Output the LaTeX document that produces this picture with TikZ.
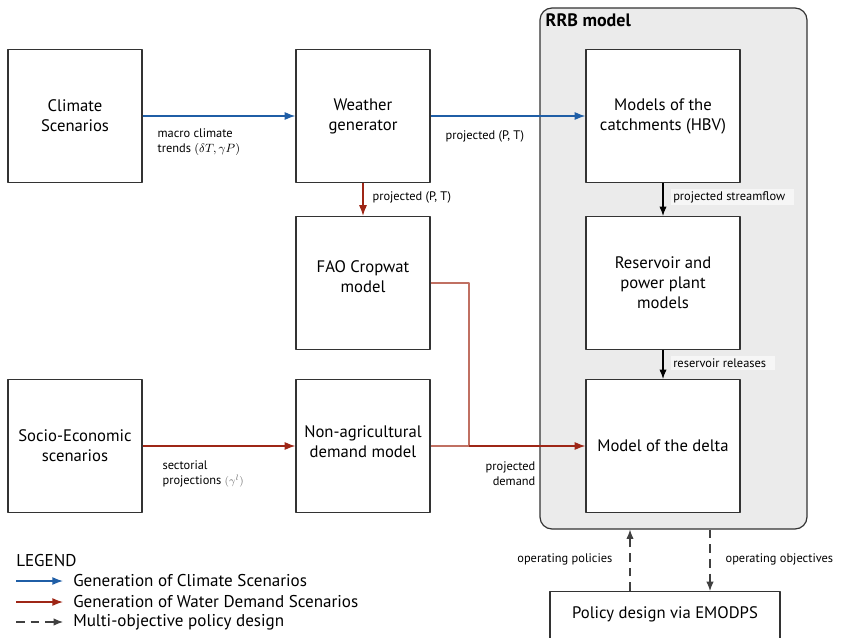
\documentclass[tikz,border=0pt]{standalone}
\usepackage{fontspec}
\setmainfont{PT Sans}
\usetikzlibrary{arrows.meta,calc}
\definecolor{climblue}{RGB}{31,94,166}
\definecolor{demred}{RGB}{158,38,22}
\definecolor{demlight}{RGB}{192,112,98}
\definecolor{rrbgray}{RGB}{235,235,235}
\tikzset{
 box/.style={draw=black!80,fill=white,line width=0.9pt,minimum width=100.5pt,minimum height=99.75pt,align=center,inner sep=3pt,font=\fontsize{12.5}{15}\selectfont},
 wide/.style={minimum width=115.5pt},
 lbl/.style={font=\fontsize{9.3}{11.5}\selectfont,align=left,inner sep=1pt},
 tag/.style={lbl,fill=white!55!rrbgray,inner xsep=1.5pt,inner ysep=2pt},
 climate/.style={draw=climblue,line width=1pt,-{Latex[length=8pt,width=6pt]}},
 demand/.style={draw=demred,line width=1pt,-{Latex[length=8pt,width=6pt]}},
 feed/.style={draw=black,line width=0.8pt,-{Latex[length=7pt,width=5.5pt]}},
 policy/.style={draw=black!75,line width=0.8pt,dash pattern=on 6.5pt off 4.5pt,-{Latex[length=7pt,width=5.5pt]}},
}
\begin{document}
\begin{tikzpicture}[x=0.75pt,y=-0.75pt,line join=round]
 \clip (0,0) rectangle (843,638);
 % RRB frame
 \node[draw=black!80,fill=rrbgray,line width=0.9pt,rounded corners=9pt,minimum width=200.25pt,minimum height=390.75pt] (rrb) at (673.5,268.5) {};
 \node[anchor=north west,inner sep=0pt,font=\fontsize{13.5}{16}\selectfont\bfseries] (rrbtitle) at ($(rrb.north west)+(6,6)$) {RRB model};
 % model boxes
 \node[box] (clim) at (75,116) {Climate\\Scenarios};
 \node[box] (wgen) at (363,116) {Weather\\generator};
 \node[box,wide] (hbv) at (663,116) {Models of the\\catchments (HBV)};
 \node[box] (fao) at (363,283) {FAO Cropwat\\model\rule[-9pt]{0pt}{0pt}};
 \node[box,wide] (res) at (663,283) {Reservoir and\\power plant\\models};
 \node[box] (socio) at (75,446) {Socio-Economic\\scenarios};
 \node[box] (nonag) at (363,446) {Non-agricultural\\demand model\rule[-6pt]{0pt}{0pt}};
 \node[box,wide] (delta) at (663,446) {Model of the delta};
 \node[box,anchor=north,minimum width=172.5pt,minimum height=0pt,text height=17pt,text depth=22pt] (pol) at (665,591) {Policy design via EMODPS};
 % climate chain
 \draw[climate] (clim) -- (wgen);
 \draw[climate] (wgen) -- (hbv);
 \node[lbl,anchor=north west] (trend) at (156,127) {macro climate\\trends {\small$(\delta T,\gamma P)$}};
 \node[lbl,anchor=west] (ptblue) at (444,136) {projected (P, T)};
 % demand chain
 \draw[demand] (wgen) -- (fao);
 \node[lbl,anchor=west] (ptred) at (371,197) {projected (P, T)};
 \draw[demand] (socio) -- (nonag);
 \node[lbl,anchor=north west] (sect) at (161,459) {sectorial\\projections {\color{black!55}\footnotesize$(\gamma^l)$}};
 \coordinate (join) at (469,446);
 \draw[draw=demlight,line width=0.8pt] (fao.east) -| (join) -- (nonag.east);
 \draw[demand] (join) -- (delta.west);
 \node[lbl,anchor=north east,align=right] (pdem) at (537,460) {projected\\demand};
 % inside the RRB model
 \draw[feed] (hbv) -- (res);
 \node[tag,anchor=west] (flow) at (671,197) {projected streamflow\hspace{5pt}};
 \draw[feed] (res) -- (delta);
 \node[tag,anchor=west] (rel) at (671,363) {reservoir releases\hspace{5pt}};
 % policy loop
 \coordinate (pin) at ($(pol.north)+(-35,0)$);
 \coordinate (pout) at ($(pol.north)+(45,0)$);
 \draw[policy] (pin) -- (pin |- rrb.south);
 \draw[policy] (pout |- rrb.south) -- (pout);
 \node[lbl,anchor=east] (opol) at (614,559) {operating policies};
 \node[lbl,anchor=west] (oobj) at (724,559) {operating objectives};
 % legend
 \node[anchor=west,inner sep=0pt,font=\fontsize{12.8}{15}\selectfont] (leg) at (16,561) {LEGEND};
 \foreach \i/\y/\st/\txt in {1/581/climate/Generation of Climate Scenarios,2/602/demand/Generation of Water Demand Scenarios,3/622/policy/Multi-objective policy design}{
  \coordinate (s\i) at (16,\y);
  \node[anchor=west,inner sep=0pt,font=\fontsize{12.8}{15}\selectfont] (t\i) at (73,\y) {\txt};
  \draw[\st] (s\i) -- ($(t\i.west)+(-10,0)$);
 }
\end{tikzpicture}
\end{document}
